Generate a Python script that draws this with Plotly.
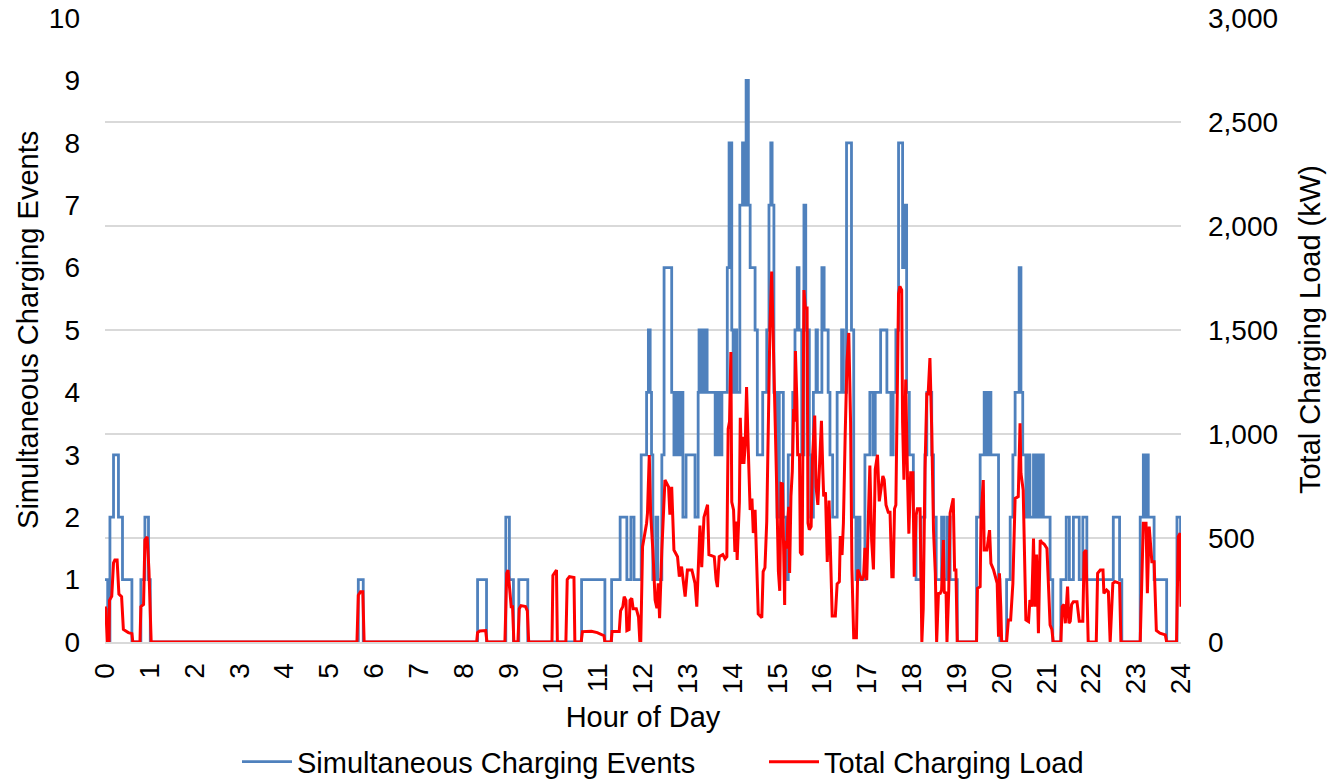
import plotly.graph_objects as go

# Number of vehicles charging at once: change points (hour of day, count),
# each count held until the next change point.
event_hours = [
    0.00, 0.06, 0.11, 0.19, 0.30, 0.39, 0.60, 0.80, 0.89, 0.97, 1.01,
    5.65, 5.76, 8.31, 8.51, 8.94, 9.02, 9.11, 9.23, 9.43,
    10.63, 11.15, 11.30, 11.49, 11.64, 11.73, 11.80, 11.96,
    12.08, 12.12, 12.16, 12.19, 12.22, 12.29, 12.33, 12.42, 12.47, 12.64,
    12.69, 12.74, 12.78, 12.83, 12.89, 12.96, 13.16, 13.23, 13.25, 13.28,
    13.31, 13.36, 13.38, 13.43, 13.61, 13.66, 13.70, 13.76, 13.88, 13.92,
    13.98, 14.01, 14.05, 14.09, 14.16, 14.22, 14.26, 14.30, 14.35, 14.39,
    14.50, 14.55, 14.67, 14.76, 14.81, 14.85, 14.88, 14.92, 14.99, 15.04,
    15.13, 15.19, 15.24, 15.34, 15.39, 15.44, 15.48, 15.54, 15.59, 15.63,
    15.71, 15.74, 15.80, 15.86, 15.89, 15.99, 16.04, 16.13, 16.17, 16.23,
    16.33, 16.43, 16.47, 16.54, 16.65, 16.70, 16.75, 16.80, 16.84, 16.95,
    17.06, 17.13, 17.18, 17.30, 17.44, 17.53, 17.58, 17.64, 17.70, 17.79,
    17.85, 17.88, 17.94, 18.03, 18.09, 18.12, 18.20, 18.29, 18.33, 18.44,
    18.48, 18.54, 18.66, 18.72, 18.79, 18.85, 19.01,
    19.44, 19.52, 19.61, 19.65, 19.70, 19.76, 19.93, 19.96,
    20.11, 20.19, 20.25, 20.30, 20.39, 20.43, 20.47, 20.54, 20.60, 20.63,
    20.71, 20.75, 20.78, 20.84, 20.87, 20.93, 21.08, 21.14, 21.32, 21.44,
    21.51, 21.60, 21.73, 21.81, 21.90, 22.49, 22.63, 22.68,
    23.09, 23.16, 23.20, 23.23, 23.27, 23.40, 23.68, 23.91, 23.99, 24.00,
]
event_counts = [
    1, 0, 2, 3, 2, 1, 0, 1, 2, 1, 0,
    1, 0, 1, 0, 2, 1, 0, 1, 0,
    1, 0, 1, 2, 1, 2, 1, 3,
    4, 5, 4, 3, 1, 2, 1, 3, 6, 4,
    3, 4, 3, 4, 2, 3, 2, 4, 5, 4,
    5, 4, 5, 4, 3, 4, 3, 4, 6, 8,
    5, 4, 5, 4, 7, 8, 7, 9, 7, 6,
    5, 3, 4, 5, 7, 8, 7, 4, 2, 4,
    2, 1, 3, 4, 5, 6, 5, 3, 7, 5,
    3, 2, 4, 5, 4, 6, 5, 4, 3, 2,
    4, 5, 4, 8, 5, 2, 1, 2, 1, 3,
    4, 3, 4, 5, 4, 3, 4, 5, 8, 6,
    7, 4, 3, 2, 1, 1, 2, 3, 4, 3,
    2, 1, 2, 1, 2, 1, 0,
    2, 3, 4, 3, 4, 3, 1, 0,
    1, 2, 3, 4, 6, 4, 3, 2, 3, 2,
    3, 2, 3, 2, 3, 2, 1, 0, 1, 2,
    1, 2, 1, 2, 1, 2, 1, 0,
    2, 3, 2, 3, 2, 1, 0, 2, 1, 1,
]

# Combined charging power of all vehicles (hour of day, kW)
load_hours = [
    0.00, 0.02, 0.05, 0.09, 0.10, 0.15, 0.19, 0.22, 0.27, 0.31, 0.37, 0.41,
    0.52, 0.60, 0.62, 0.78, 0.80, 0.86, 0.89, 0.94, 0.98, 1.03,
    5.62, 5.65, 5.70, 5.75, 5.78,
    8.29, 8.31, 8.36, 8.49, 8.52, 8.92, 8.96, 8.99, 9.03, 9.06, 9.09, 9.12,
    9.21, 9.24, 9.28, 9.38, 9.42, 9.45, 9.97, 9.99, 10.07, 10.09,
    10.28, 10.31, 10.36, 10.46, 10.48, 10.62, 10.65, 10.85, 10.98, 11.08,
    11.13, 11.15, 11.29, 11.31, 11.47, 11.50, 11.55, 11.58, 11.62, 11.64,
    11.69, 11.71, 11.75, 11.78, 11.85, 11.90, 11.93, 11.95, 11.99,
    12.08, 12.10, 12.14, 12.17, 12.22, 12.27, 12.31, 12.34, 12.37, 12.42,
    12.49, 12.57, 12.60, 12.64, 12.69, 12.77, 12.81, 12.86, 12.94, 12.99,
    13.09, 13.16, 13.20, 13.23, 13.27, 13.31, 13.36, 13.44, 13.47, 13.59,
    13.63, 13.66, 13.70, 13.78, 13.83, 13.87, 13.90, 13.93, 13.96, 13.98,
    14.02, 14.05, 14.08, 14.10, 14.15, 14.17, 14.20, 14.23, 14.25, 14.28,
    14.31, 14.35, 14.39, 14.43, 14.46, 14.50, 14.54, 14.57, 14.65, 14.68,
    14.72, 14.76, 14.80, 14.83, 14.87, 14.91, 14.95, 14.98, 15.02, 15.05,
    15.08, 15.11, 15.14, 15.16, 15.17, 15.21, 15.23, 15.25, 15.27, 15.30,
    15.33, 15.36, 15.38, 15.40, 15.43, 15.45, 15.49, 15.51, 15.55, 15.59,
    15.62, 15.66, 15.68, 15.71, 15.75, 15.78, 15.83, 15.86, 15.90, 15.93,
    15.98, 16.01, 16.03, 16.07, 16.11, 16.15, 16.18, 16.22, 16.29, 16.33,
    16.38, 16.40, 16.44, 16.47, 16.51, 16.55, 16.59, 16.63, 16.66, 16.70,
    16.76, 16.79, 16.88, 16.92, 16.95, 16.99, 17.03, 17.06, 17.10, 17.14,
    17.18, 17.23, 17.27, 17.30, 17.35, 17.38, 17.42, 17.47, 17.51, 17.55,
    17.58, 17.61, 17.64, 17.70, 17.73, 17.77, 17.79, 17.82, 17.86, 17.90,
    17.93, 17.97, 18.02, 18.05, 18.09, 18.12, 18.18, 18.22, 18.25, 18.29,
    18.33, 18.36, 18.40, 18.44, 18.48, 18.52, 18.55, 18.59, 18.63, 18.66,
    18.70, 18.72, 18.76, 18.78, 18.82, 18.85, 18.89, 18.92, 18.95, 18.98,
    19.01, 19.44, 19.46, 19.52, 19.54, 19.59, 19.61, 19.67, 19.73, 19.76,
    19.82, 19.88, 19.90, 19.93, 19.95, 19.98, 20.00, 20.11, 20.15, 20.20,
    20.25, 20.30, 20.37, 20.41, 20.43, 20.48, 20.52, 20.54, 20.60, 20.63,
    20.67, 20.71, 20.74, 20.78, 20.82, 20.86, 20.89, 20.95, 21.01, 21.04,
    21.08, 21.12, 21.15, 21.32, 21.35, 21.39, 21.42, 21.47, 21.50, 21.53,
    21.56, 21.60, 21.68, 21.73, 21.81, 21.84, 21.88, 21.93, 22.11, 22.14,
    22.20, 22.26, 22.28, 22.34, 22.38, 22.42, 22.45, 22.48, 22.53, 22.63,
    22.66, 23.09, 23.13, 23.16, 23.22, 23.25, 23.29, 23.35, 23.40, 23.45,
    23.53, 23.65, 23.68, 23.90, 23.94, 23.98, 24.00,
]
load_kw = [
    170, 160, 0, 0, 200, 220, 380, 394, 394, 230, 218, 60,
    45, 40, 0, 0, 170, 180, 490, 506, 346, 0,
    0, 225, 242, 242, 0,
    0, 45, 53, 55, 0, 0, 330, 346, 240, 170, 170, 0,
    0, 160, 175, 170, 150, 0, 0, 320, 346, 0,
    0, 300, 314, 310, 0, 0, 50, 52, 45, 35,
    30, 0, 0, 50, 50, 150, 170, 218, 200, 55,
    60, 200, 210, 160, 160, 120, 0, 0, 458,
    571, 620, 899, 619, 442, 202, 162, 282, 115, 442,
    779, 746, 612, 746, 442, 410, 314, 362, 218, 346,
    346, 282, 170, 378, 560, 360, 600, 660, 420, 410,
    300, 264, 410, 420, 400, 410, 1024, 1060, 1394, 673,
    635, 433, 579, 394, 673, 1078, 856, 986, 856, 949,
    1226, 913, 635, 690, 524, 635, 394, 135, 117, 339,
    357, 579, 1097, 1505, 1781, 1319, 1041, 764, 339, 246,
    762, 760, 350, 178, 486, 450, 590, 650, 332, 700,
    820, 1120, 1060, 1399, 1170, 900, 900, 430, 418, 1692,
    1606, 1606, 572, 540, 555, 880, 1089, 745, 659, 790,
    1063, 830, 700, 720, 385, 680, 385, 125, 125, 279,
    290, 510, 418, 572, 1000, 1348, 1486, 1055, 349, 21,
    21, 349, 297, 314, 453, 297, 624, 848, 487, 349,
    830, 900, 676, 728, 798, 780, 659, 624, 624, 314,
    314, 641, 659, 1675, 1710, 1692, 1055, 780, 1262, 780,
    521, 814, 814, 314, 607, 641, 641, 0, 159, 830,
    1192, 1192, 1365, 1021, 538, 332, 0, 233, 234, 250,
    490, 234, 240, 0, 250, 619, 667, 691, 346, 346,
    0, 0, 258, 266, 602, 779, 442, 442, 538, 378,
    346, 298, 282, 26, 330, 170, 0, 0, 106, 106,
    282, 690, 699, 1051, 811, 730, 394, 106, 98, 202,
    170, 498, 170, 420, 42, 490, 480, 470, 450, 266,
    82, 60, 0, 0, 170, 180, 90, 266, 90, 100,
    180, 194, 194, 100, 100, 430, 442, 0, 0, 330,
    346, 346, 234, 250, 242, 0, 194, 282, 290, 282,
    0, 0, 330, 571, 571, 235, 555, 386, 386, 55,
    42, 34, 0, 0, 507, 523, 170,
]

hour_ticks = list(range(0, 25))
event_ticks = list(range(0, 11))
load_ticks = list(range(0, 3001, 500))

FONT = "Liberation Sans, Arial, sans-serif"
GRID = "#D9D9D9"
TITLE_FONT = dict(family=FONT, size=29, color="#000000")

fig = go.Figure()
fig.add_trace(go.Scatter(
    x=event_hours, y=event_counts, name="Simultaneous Charging Events",
    mode="lines", line=dict(color="#4F81BD", width=2.8, shape="hv"),
))
fig.add_trace(go.Scatter(
    x=load_hours, y=load_kw, name="Total Charging Load", yaxis="y2",
    mode="lines", line=dict(color="#FF0000", width=3),
))

# Vertical axis titles, set as rotated annotations beside each axis
fig.add_annotation(
    text="Simultaneous Charging Events", xref="paper", yref="paper",
    x=-0.0716, y=0.5, xanchor="center", yanchor="middle",
    textangle=-90, showarrow=False, font=TITLE_FONT,
)
fig.add_annotation(
    text="Total Charging Load (kW)", xref="paper", yref="paper",
    x=1.1199, y=0.5, xanchor="center", yanchor="middle",
    textangle=-90, showarrow=False, font=TITLE_FONT,
)

fig.update_layout(
    width=1338, height=782,
    margin=dict(l=105, r=157, t=18, b=140, autoexpand=False),
    paper_bgcolor="white", plot_bgcolor="white",
    font=dict(family=FONT, size=28, color="#000000"),
    showlegend=True,
    legend=dict(
        orientation="h", xref="container", x=0.571, xanchor="center",
        y=-0.192, yanchor="middle",
        font=dict(family=FONT, size=29, color="#000000"),
        entrywidth=462, entrywidthmode="pixels", itemwidth=50,
    ),
    xaxis=dict(
        range=[0, 24], tickmode="array", tickvals=hour_ticks,
        ticktext=[str(h) for h in hour_ticks], tickangle=-90,
        showgrid=False, zeroline=False, showline=True,
        linecolor=GRID, linewidth=2, ticks="", ticklabelstandoff=8,
        title=dict(text="Hour of Day", standoff=13, font=TITLE_FONT),
    ),
    yaxis=dict(
        range=[0, 10], tickmode="array", tickvals=event_ticks,
        showgrid=False, zeroline=False, showline=False, ticks="",
        ticklabelstandoff=24,
    ),
    yaxis2=dict(
        range=[0, 3000], tickmode="array", tickvals=load_ticks,
        tickformat=",", overlaying="y", side="right",
        showgrid=True, gridcolor=GRID, gridwidth=2, zeroline=False,
        showline=False, ticks="", ticklabelstandoff=26,
    ),
)

fig.write_html("out.html")
